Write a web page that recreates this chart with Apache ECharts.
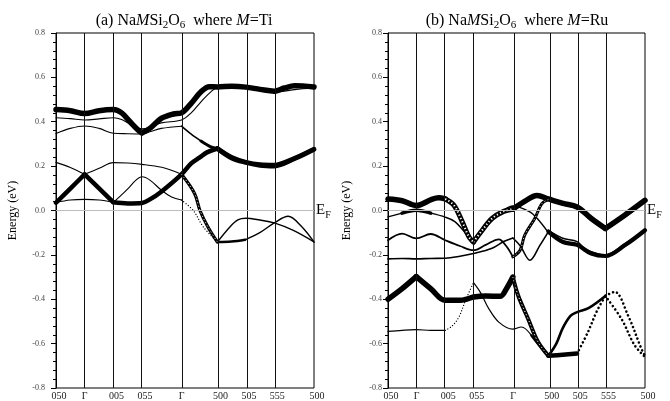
<!DOCTYPE html>
<html>
<head>
<meta charset="utf-8">
<script src="https://cdn.jsdelivr.net/npm/echarts@6/dist/echarts.min.js"></script>
<style>
  html, body { margin: 0; padding: 0; background: #fff; }
  #chart { width: 670px; height: 401px; }
</style>
</head>
<body>
<div id="chart"></div>
<script>
// k-path: high-symmetry points on a normalised path length
const kPoints = [0, 0.111, 0.2225, 0.3335, 0.4865, 0.6255, 0.736, 0.846, 1];
const kLabels = ['050', 'Γ', '005', '055', 'Γ', '500', '505', '555', '500'];
const energyMin = -0.8;
const energyMax = 0.8;
const energyStep = 0.2;

// ---- (a) M = Ti : bands as [k, E(eV)] ----
const tiBand1 = [[0,0.455],[0.0555,0.45],[0.111,0.437],[0.167,0.45],[0.2225,0.455],[0.2546,0.44],[0.287,0.40],[0.319,0.362],[0.3335,0.35],[0.364,0.37],[0.408,0.415],[0.455,0.435],[0.4865,0.44],[0.524,0.483],[0.562,0.535],[0.594,0.558],[0.6255,0.557],[0.681,0.56],[0.736,0.556],[0.791,0.546],[0.846,0.538],[0.885,0.552],[0.925,0.562],[1,0.557]];
const tiBand2 = [[0,0.418],[0.0555,0.414],[0.111,0.408],[0.167,0.413],[0.2225,0.418],[0.2546,0.41],[0.287,0.39],[0.3335,0.368],[0.364,0.375],[0.408,0.395],[0.4865,0.408],[0.524,0.44],[0.562,0.49],[0.6,0.535],[0.6255,0.553],[0.681,0.555],[0.736,0.553],[0.791,0.542],[0.846,0.534],[0.885,0.538],[0.925,0.545],[1,0.552]];
const tiBand3 = [[0,0.347],[0.0555,0.37],[0.111,0.381],[0.167,0.37],[0.2225,0.348],[0.278,0.346],[0.3335,0.345],[0.364,0.355],[0.408,0.37],[0.4865,0.38],[0.524,0.344],[0.562,0.313],[0.6,0.287],[0.6255,0.28],[0.681,0.24],[0.736,0.218],[0.791,0.207],[0.846,0.205],[0.923,0.235],[1,0.277]];
const tiBand4 = [[0,0.217],[0.0555,0.194],[0.111,0.163],[0.167,0.19],[0.2225,0.216],[0.278,0.214],[0.3335,0.208],[0.41,0.195],[0.45,0.18],[0.4865,0.163],[0.537,0.077],[0.558,0.0],[0.589,-0.074],[0.6255,-0.142]];
const tiBand5 = [[0,0.035],[0.0555,0.099],[0.111,0.163],[0.167,0.1],[0.2225,0.037],[0.278,0.032],[0.3335,0.034],[0.364,0.05],[0.408,0.085],[0.4865,0.163],[0.524,0.212],[0.556,0.238],[0.585,0.262],[0.6255,0.279],[0.681,0.236],[0.736,0.216],[0.791,0.203],[0.846,0.2],[0.923,0.232],[1,0.275]];
const tiBand6 = [[0,0.036],[0.0555,0.047],[0.111,0.05],[0.167,0.047],[0.2225,0.037],[0.25,0.066],[0.28,0.1],[0.31,0.137],[0.3335,0.152],[0.364,0.137],[0.41,0.09],[0.448,0.061],[0.4865,0.047],[0.532,0.0],[0.571,-0.074],[0.6255,-0.142]];
const tiBand7 = [[0.6255,-0.142],[0.674,-0.074],[0.705,-0.042],[0.736,-0.035],[0.79,-0.043],[0.846,-0.056],[0.92,-0.09],[1,-0.142]];
const tiBand8 = [[0.6255,-0.142],[0.68,-0.14],[0.733,-0.132],[0.79,-0.1],[0.846,-0.056],[0.9,-0.026],[0.95,-0.07],[1,-0.142]];

// ---- (b) M = Ru ----
const ruBand1 = [[0,0.052],[0.055,0.044],[0.11,0.022],[0.17,0.05],[0.198,0.057],[0.2227,0.052],[0.2565,0.024],[0.289,-0.051],[0.315,-0.119],[0.3327,-0.142],[0.366,-0.09],[0.405,-0.036],[0.45,-0.004],[0.4858,0.006],[0.53,0.04],[0.58,0.068],[0.6242,0.052],[0.681,0.032],[0.7357,0.016],[0.791,-0.036],[0.8457,-0.081],[0.921,-0.021],[1,0.046]];
const ruBand2 = [[0,-0.029],[0.055,-0.012],[0.11,0.001],[0.166,-0.012],[0.2227,-0.03],[0.26,-0.05],[0.3,-0.1],[0.3327,-0.15],[0.37,-0.09],[0.42,-0.03],[0.4858,0.02],[0.55,-0.005],[0.58,-0.035],[0.6242,-0.1]];
const ruBand3 = [[0,-0.134],[0.055,-0.104],[0.11,-0.126],[0.166,-0.106],[0.2227,-0.134],[0.28,-0.16],[0.3327,-0.179],[0.38,-0.155],[0.431,-0.13],[0.46,-0.16],[0.4858,-0.209],[0.514,-0.179],[0.532,-0.111],[0.571,-0.036],[0.598,0.03],[0.6242,0.05]];
const ruBand4 = [[0,-0.218],[0.055,-0.216],[0.11,-0.218],[0.166,-0.216],[0.2227,-0.215],[0.28,-0.206],[0.3327,-0.194],[0.405,-0.17],[0.45,-0.14],[0.4858,-0.124],[0.515,-0.16],[0.552,-0.224],[0.591,-0.157],[0.6242,-0.095]];
const ruBand5 = [[0.6242,-0.095],[0.681,-0.142],[0.7357,-0.155],[0.791,-0.194],[0.8457,-0.205],[0.921,-0.157],[1,-0.089]];
const ruBand6 = [[0.6242,-0.09],[0.68,-0.125],[0.7357,-0.14],[0.77,-0.175],[0.8457,-0.2],[0.921,-0.15],[1,-0.092]];
const ruBand7 = [[0.6242,0.05],[0.681,0.025],[0.7357,0.01],[0.791,-0.045],[0.8457,-0.083],[0.921,-0.03],[1,0.04]];
const ruBand8 = [[0,-0.4],[0.055,-0.352],[0.11,-0.298],[0.166,-0.352],[0.2227,-0.405],[0.28,-0.405],[0.31,-0.398],[0.3327,-0.39],[0.38,-0.385],[0.436,-0.387],[0.462,-0.35],[0.4858,-0.3],[0.506,-0.382],[0.545,-0.488],[0.584,-0.593],[0.6242,-0.655]];
const ruBand9 = [[0,-0.545],[0.055,-0.54],[0.11,-0.537],[0.166,-0.54],[0.2227,-0.54],[0.25,-0.52],[0.276,-0.48],[0.305,-0.395],[0.3327,-0.325],[0.36,-0.37],[0.392,-0.442],[0.431,-0.503],[0.4858,-0.535],[0.519,-0.525],[0.558,-0.563],[0.59,-0.61],[0.6242,-0.655]];
const ruBand10 = [[0.6242,-0.655],[0.68,-0.65],[0.7357,-0.645],[0.778,-0.548],[0.811,-0.458],[0.8457,-0.385],[0.908,-0.488],[0.96,-0.608],[1,-0.66]];
const ruBand11 = [[0.6242,-0.655],[0.655,-0.6],[0.68,-0.53],[0.71,-0.475],[0.7357,-0.458],[0.78,-0.44],[0.8457,-0.385],[0.882,-0.367],[0.934,-0.473],[0.986,-0.623],[1,-0.655]];

// Stroke weight runs along each band: [fromIndex, toIndex, width, kind]
const tiStyles = [
  [[0, 23, 5.5]],
  [[0, 21, 1.1]],
  [[0, 9, 1.1], [9, 11, 1.6], [11, 13, 3], [13, 19, 4.5]],
  [[0, 9, 1.1], [9, 13, 3.2, 'hollow']],
  [[0, 19, 4.5]],
  [[0, 12, 1.1], [12, 15, 1.3, 'dot']],
  [[0, 7, 1.4]],
  [[0, 2, 2.6], [2, 7, 1.4]]
];
const tiCorners = [[8], [], [9, 13], [2, 9], [2, 4, 13], [4, 12], [], []];

const ruStyles = [
  [[0, 5, 5.5], [5, 13, 5, 'hollow'], [13, 22, 5.5]],
  [[0, 1, 1.4], [1, 3, 3.5], [3, 13, 1.4]],
  [[0, 10, 1.8], [10, 15, 3, 'hollow']],
  [[0, 13, 1.6]],
  [[0, 6, 4.2]],
  [[0, 6, 1.5]],
  [[0, 6, 1.5]],
  [[0, 11, 5.5], [11, 15, 4, 'hollow']],
  [[0, 4, 1.2], [4, 8, 1.3, 'dot'], [8, 14, 1.2], [14, 16, 2.4]],
  [[0, 2, 4.5], [2, 8, 2.6, 'dot']],
  [[0, 6, 2.6], [6, 10, 2.6, 'dot']]
];
const ruCorners = [[9, 20], [7], [10], [9], [], [], [4], [2, 11], [8], [2, 5], []];

const tiBands = [tiBand1, tiBand2, tiBand3, tiBand4, tiBand5, tiBand6, tiBand7, tiBand8];
const ruBands = [ruBand1, ruBand2, ruBand3, ruBand4, ruBand5, ruBand6, ruBand7, ruBand8, ruBand9, ruBand10, ruBand11];

const FONT = 'Liberation Serif';

function pieceSeries(data, seg, g) {
  const base = {
    type: 'line', xAxisIndex: g, yAxisIndex: g, data: data,
    smooth: 0.35, symbol: 'none', silent: true, animation: false, z: 3
  };
  if (seg.kind === 'dot') {
    return [Object.assign({}, base, {
      lineStyle: { color: '#000', width: seg.w, type: [0.01, seg.w + 1.6], cap: 'round' }
    })];
  }
  const solid = Object.assign({}, base, {
    lineStyle: { color: '#000', width: seg.w, cap: 'round', join: 'round' }
  });
  if (seg.kind === 'hollow') {
    return [solid, Object.assign({}, base, {
      z: 4,
      lineStyle: { color: '#fff', width: Math.max(seg.w - 3, 0.8), type: [1.2, 2.4], cap: 'butt' }
    })];
  }
  return [solid];
}

function bandSeries(points, runs, corners, g) {
  const n = points.length;
  const segs = [];
  for (let i = 0; i < n - 1; i++) segs.push({ w: 1, kind: 'solid' });
  runs.forEach(function (r) {
    for (let i = r[0]; i < r[1] && i < n - 1; i++) segs[i] = { w: r[2], kind: r[3] || 'solid' };
  });
  const cornerSet = new Set(corners);
  const out = [];
  let start = 0;
  for (let i = 1; i <= n - 1; i++) {
    const last = i === n - 1;
    const brk = last || cornerSet.has(i) ||
      segs[i].w !== segs[start].w || segs[i].kind !== segs[start].kind;
    if (brk) {
      out.push.apply(out, pieceSeries(points.slice(start, i + 1), segs[start], g));
      start = i;
    }
  }
  return out;
}

function frameSeries(g) {
  return [
    {
      type: 'line', xAxisIndex: g, yAxisIndex: g, data: [], silent: true, z: 1,
      markLine: {
        silent: true, animation: false, symbol: ['none', 'none'],
        label: { show: false },
        lineStyle: { color: '#111', width: 1, type: 'solid' },
        data: kPoints.slice(1, -1).map(function (k) { return { xAxis: k }; })
      }
    },
    {
      type: 'line', xAxisIndex: g, yAxisIndex: g, data: [], silent: true, z: 1,
      markLine: {
        silent: true, animation: false, symbol: ['none', 'none'],
        lineStyle: { color: '#bdbdbd', width: 1, type: 'solid' },
        label: {
          show: true, position: 'end', distance: 2,
          formatter: '{e|E}{f|F}',
          rich: {
            e: { fontFamily: FONT, fontSize: 15, color: '#000' },
            f: { fontFamily: FONT, fontSize: 10, color: '#000', padding: [10, 0, 0, 0] }
          }
        },
        data: [{ yAxis: 0 }]
      }
    }
  ];
}

function xAxisFor(g) {
  return {
    gridIndex: g, type: 'value', min: 0, max: 1,
    axisLine: { show: true, lineStyle: { color: '#000', width: 1 } },
    axisTick: { show: false },
    splitLine: { show: false },
    axisLabel: {
      customValues: kPoints,
      showMinLabel: true, showMaxLabel: true,
      margin: 3,
      formatter: function (v) {
        const i = kPoints.indexOf(v);
        const t = i >= 0 ? kLabels[i] : '';
        return t === 'Γ' ? '{g|Γ}' : '{n|' + t + '}';
      },
      rich: {
        n: { fontFamily: FONT, fontSize: 10, color: '#222', padding: [0, 0, 0, 6] },
        g: { fontFamily: FONT, fontSize: 10, color: '#222' }
      }
    }
  };
}

function yAxisFor(g, labelMargin, nameGap) {
  return {
    gridIndex: g, type: 'value', min: energyMin, max: energyMax, interval: energyStep,
    axisLine: { show: true, lineStyle: { color: '#000', width: 1 } },
    axisTick: { show: true, length: 5, lineStyle: { color: '#000' } },
    minorTick: { show: true, splitNumber: 5, length: 3, lineStyle: { color: '#000' } },
    splitLine: { show: false },
    minorSplitLine: { show: false },
    axisLabel: {
      margin: labelMargin, fontFamily: FONT, fontSize: 8, color: '#444',
      formatter: function (v) { return (Math.abs(v) < 1e-9 ? 0 : v).toFixed(1); }
    },
    name: 'Energy (eV)', nameLocation: 'middle', nameGap: nameGap,
    nameTextStyle: { fontFamily: FONT, fontSize: 12, color: '#000' }
  };
}

const series = [].concat(
  frameSeries(0), frameSeries(1),
  tiBands.map(function (b, i) { return bandSeries(b, tiStyles[i], tiCorners[i], 0); }).flat(),
  ruBands.map(function (b, i) { return bandSeries(b, ruStyles[i], ruCorners[i], 1); }).flat()
);

const chart = echarts.init(document.getElementById('chart'), null, { renderer: 'canvas' });
chart.setOption({
  animation: false,
  backgroundColor: '#fff',
  textStyle: { fontFamily: FONT },
  title: [
    {
      text: '(a) Na{i|M}Si{s|2}O{s|6}  where {i|M}=Ti',
      left: 179, top: 5, textAlign: 'center',
      textStyle: {
        fontFamily: FONT, fontSize: 16, fontWeight: 'normal', color: '#000',
        rich: {
          i: { fontFamily: FONT, fontSize: 16, fontStyle: 'italic', color: '#000' },
          s: { fontFamily: FONT, fontSize: 11, color: '#000', padding: [10, 0, 0, 0] }
        }
      }
    },
    {
      text: '(b) Na{i|M}Si{s|2}O{s|6}  where {i|M}=Ru',
      left: 512, top: 5, textAlign: 'center',
      textStyle: {
        fontFamily: FONT, fontSize: 16, fontWeight: 'normal', color: '#000',
        rich: {
          i: { fontFamily: FONT, fontSize: 16, fontStyle: 'italic', color: '#000' },
          s: { fontFamily: FONT, fontSize: 11, color: '#000', padding: [10, 0, 0, 0] }
        }
      }
    }
  ],
  grid: [
    { left: 56, top: 33, width: 258, height: 355, show: true, borderColor: '#000', borderWidth: 1, backgroundColor: 'transparent' },
    { left: 388, top: 33, width: 257, height: 355, show: true, borderColor: '#000', borderWidth: 1, backgroundColor: 'transparent' }
  ],
  xAxis: [xAxisFor(0), xAxisFor(1)],
  yAxis: [yAxisFor(0, 11, 37), yAxisFor(1, 6, 35)],
  series: series
});
</script>
</body>
</html>
